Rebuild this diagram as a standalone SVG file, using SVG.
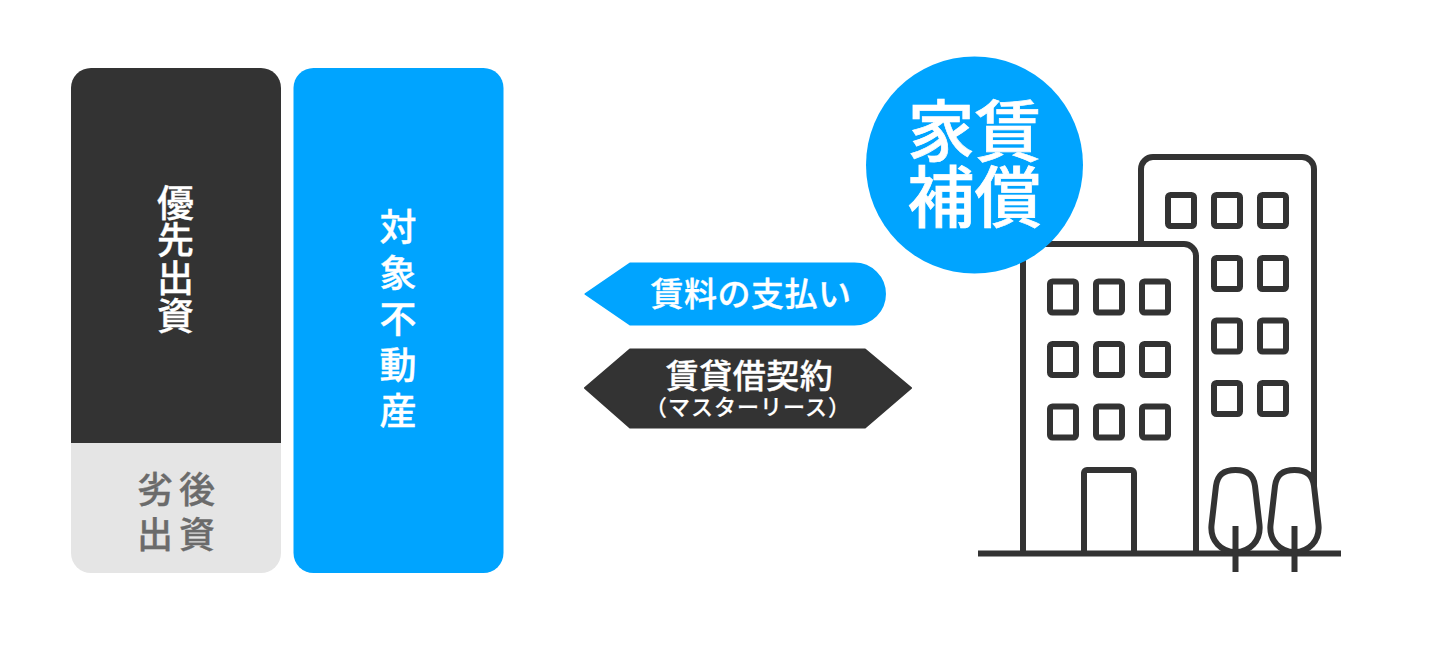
<svg xmlns="http://www.w3.org/2000/svg" width="1450" height="654" viewBox="0 0 1450 654">
<style>
text{font-family:"Noto Sans CJK JP","Noto Sans CJK SC",sans-serif;font-weight:500;text-anchor:middle;fill:#fff;stroke:#fff;stroke-width:.35}
text.gray{fill:#6b6b6b;stroke:#6b6b6b}
text.big{stroke-width:.7}
text.small{stroke-width:.2}
.ln{fill:none;stroke:#333;stroke-width:6}
.win{fill:#fff;stroke:#333;stroke-width:6}
.tree{fill:#fff;stroke:#333;stroke-width:6}
</style>
<defs>
<rect id="w" x="0" y="0" width="26" height="31" rx="2.500" class="win"/>
<path id="t" class="tree" d="M-19.500 19 C-18 7-11 3 0 3 C11 3 18 7 19.500 19 L24 58 C25.500 74 14 85 0 85 C-14 85-25.500 74-24 58 Z"/>
</defs>
<rect width="1450" height="654" fill="#fff"/>
<g id="node-senior">
<path d="M71 443V88a20 20 0 0 1 20-20H261a20 20 0 0 1 20 20V443Z" fill="#333"/>
<text font-size="37" x="175.500 175.500 175.500 175.500" y="216.500 254 291.700 329.500">優先出資</text>
</g>
<g id="node-junior">
<path d="M71 443H281V553a20 20 0 0 1-20 20H91a20 20 0 0 1-20-20Z" fill="#e5e5e5"/>
<text class="gray" font-size="36" x="155 197" y="503">劣後</text>
<text class="gray" font-size="36" x="155 197" y="548">出資</text>
</g>
<g id="node-property">
<rect x="293.500" y="68" width="210" height="505" rx="20" fill="#00a4ff"/>
<text font-size="37" x="398 398 398 398 398" y="240.500 286.500 332.500 378.500 424.500">対象不動産</text>
</g>
<g id="connectors">
<g id="rent">
<path d="M585.500 294L630 263.500H854.500a30.500 30.500 0 0 1 0 61H630Z" fill="#00a4ff" stroke="#00a4ff" stroke-width="2" stroke-linejoin="round"/>
<text font-size="33" x="751" y="306" letter-spacing="0.500">賃料の支払い</text>
</g>
<g id="lease">
<path d="M585 388L630 349.500H865L911 388L865 427.500H630Z" fill="#333" stroke="#333" stroke-width="2" stroke-linejoin="round"/>
<text font-size="33" x="749.500" y="388" letter-spacing="0.500">賃貸借契約</text>
<text class="small" font-size="22" x="748" y="415" letter-spacing="1">（マスターリース）</text>
</g>
</g>
<g id="node-building">
<path class="ln" d="M1141 246V169a12 12 0 0 1 12-12H1302a12 12 0 0 1 12 12V530"/>
<path class="ln" d="M1023 553V256a12 12 0 0 1 12-12H1184a12 12 0 0 1 12 12V553"/>
<path class="ln" d="M1084 553V473a3 3 0 0 1 3-3H1131a3 3 0 0 1 3 3V553"/>
<use href="#w" x="1050" y="281.500"/><use href="#w" x="1096" y="281.500"/><use href="#w" x="1142" y="281.500"/>
<use href="#w" x="1050" y="344"/><use href="#w" x="1096" y="344"/><use href="#w" x="1142" y="344"/>
<use href="#w" x="1050" y="406.500"/><use href="#w" x="1096" y="406.500"/><use href="#w" x="1142" y="406.500"/>
<use href="#w" x="1168" y="195"/><use href="#w" x="1214" y="195"/><use href="#w" x="1260" y="195"/>
<use href="#w" x="1214" y="258"/><use href="#w" x="1260" y="258"/>
<use href="#w" x="1214" y="320.500"/><use href="#w" x="1260" y="320.500"/>
<use href="#w" x="1214" y="383"/><use href="#w" x="1260" y="383"/>
<path class="ln" d="M978 553.500H1341"/>
<use href="#t" x="1235.500" y="467"/><use href="#t" x="1294.500" y="467"/>
<path class="ln" d="M1235.500 526V572M1294.500 526V572"/>
</g>
<g id="node-badge">
<circle cx="974.500" cy="165" r="108.500" fill="#00a4ff"/>
<text class="big" font-size="67" x="974.500" y="156">家賃</text>
<text class="big" font-size="67" x="974.500" y="222">補償</text>
</g>
</svg>
